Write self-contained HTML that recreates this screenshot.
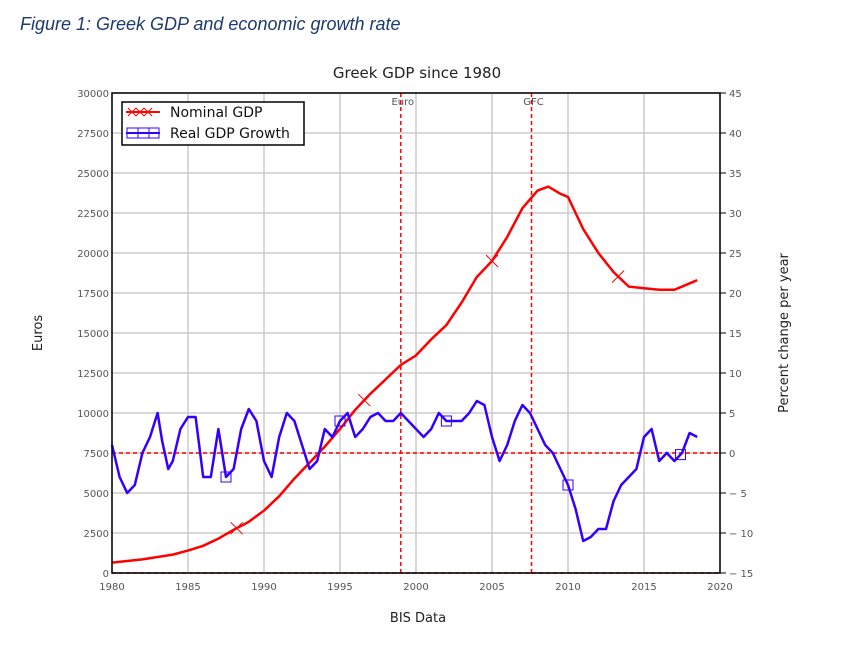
<!DOCTYPE html>
<html><head><meta charset="utf-8"><style>
body{margin:0;background:#fff;font-family:"Liberation Sans",sans-serif}
svg text{font-family:"DejaVu Sans","Liberation Sans",sans-serif}
</style></head><body>
<svg id="c" width="856" height="647" viewBox="0 0 856 647">
<text x="20" y="30" font-size="18" font-style="italic" fill="#1e3a6e" style="font-family:'Liberation Sans',sans-serif">Figure 1: Greek GDP and economic growth rate</text>
<text x="417" y="78" font-size="15" text-anchor="middle" fill="#222">Greek GDP since 1980</text>
<g id="grid"></g><g id="marks"></g><g id="axes"></g>
<text transform="translate(42,333) rotate(-90)" font-size="13" text-anchor="middle" fill="#222">Euros</text>
<text transform="translate(788,333) rotate(-90)" font-size="13" text-anchor="middle" fill="#222">Percent change per year</text>
<text x="418" y="622" font-size="13" text-anchor="middle" fill="#222">BIS Data</text>
<g>
<rect x="122" y="102" width="182" height="43" fill="#fff" stroke="#000" stroke-width="1.5"/>
<line x1="126" y1="112" x2="160" y2="112" stroke="#f00" stroke-width="2"/>
<path d="M128 108l8 8M136 108l-8 8M136 108l8 8M144 108l-8 8M144 108l8 8M152 108l-8 8" stroke="#f00" stroke-width="1"/>
<text x="170" y="117" font-size="14" fill="#111">Nominal GDP</text>
<line x1="126" y1="133" x2="160" y2="133" stroke="#30f" stroke-width="2"/>
<path d="M127 128h32v10h-32zM138 128v10M149 128v10" fill="none" stroke="#30f" stroke-width="1"/>
<text x="170" y="138" font-size="14" fill="#111">Real GDP Growth</text>
</g>
</svg>
<script>
const gdpYears=[1980,1981,1982,1983,1984,1985,1986,1987,1988,1989,1990,1991,1992,1993,1994,1995,1996,1997,1998,1999,2000,2001,2002,2003,2004,2005,2006,2007,2008,2008.7,2009.5,2010,2011,2012,2013,2014,2015,2016,2017,2018.5];
const gdpValues=[650,750,850,1000,1150,1400,1700,2150,2700,3200,3900,4800,5900,6900,7900,9000,10200,11200,12100,13000,13600,14600,15500,16900,18500,19500,21000,22800,23900,24150,23700,23500,21500,20000,18800,17900,17800,17700,17700,18300];
const growthYears=[1980,1980.5,1981,1981.5,1982,1982.5,1983,1983.3,1983.7,1984,1984.5,1985,1985.5,1986,1986.5,1987,1987.5,1988,1988.5,1989,1989.5,1990,1990.5,1991,1991.5,1992,1992.5,1993,1993.5,1994,1994.5,1995,1995.5,1996,1996.5,1997,1997.5,1998,1998.5,1999,2000,2000.5,2001,2001.5,2002,2002.5,2003,2003.5,2004,2004.5,2005,2005.5,2006,2006.5,2007,2007.5,2008,2008.5,2009,2009.5,2010,2010.5,2011,2011.5,2012,2012.5,2013,2013.5,2014,2014.5,2015,2015.5,2016,2016.5,2017,2017.5,2018,2018.5];
const growthValues=[1,-3,-5,-4,0,2,5,1.5,-2,-1,3,4.5,4.5,-3,-3,3,-3,-2,3,5.5,4,-1,-3,2,5,4,1,-2,-1,3,2,4,5,2,3,4.5,5,4,4,5,3,2,3,5,4,4,4,5,6.5,6,2,-1,1,4,6,5,3,1,0,-2,-4,-7,-11,-10.5,-9.5,-9.5,-6,-4,-3,-2,2,3,-1,0,-1,0,2.5,2];
const gdpMarkYears=[1988.2,1996.6,2005.0,2013.3];
const growthMarkYears=[1987.5,1995,2002,2010,2017.4];
const xTicks=[1980,1985,1990,1995,2000,2005,2010,2015,2020];
const yTicks=[0,2500,5000,7500,10000,12500,15000,17500,20000,22500,25000,27500,30000];
const y2Ticks=[-15,-10,-5,0,5,10,15,20,25,30,35,40,45];
const events=[{year:1999,label:"Euro"},{year:2007.6,label:"GFC"}];
const L=112,R=720,T=93,B=573;
const X=v=>L+(v-1980)/40*(R-L);
const Y=v=>B-v/30000*(B-T);
const Y2=v=>B-(v+15)/60*(B-T);
const ns="http://www.w3.org/2000/svg";
function mk(p,t,a){const e=document.createElementNS(ns,t);for(const k in a)e.setAttribute(k,a[k]);p.appendChild(e);return e;}
const grid=document.getElementById('grid'),marks=document.getElementById('marks'),axes=document.getElementById('axes');
xTicks.forEach(t=>{const l=mk(grid,'line',{x1:X(t),x2:X(t),y1:T,y2:B,stroke:'#ccc','stroke-width':1.5});


const tx=mk(axes,'text',{x:X(t),y:B+17,'font-size':10,'text-anchor':'middle',fill:'#555'});tx.textContent=t;

});
yTicks.forEach(t=>{const l=mk(grid,'line',{x1:L,x2:R,y1:Y(t),y2:Y(t),stroke:'#ccc','stroke-width':1.5});


const tx=mk(axes,'text',{x:L-3,y:Y(t)+4,'font-size':10,'text-anchor':'end',fill:'#555'});tx.textContent=t;

});
y2Ticks.forEach(t=>{mk(axes,'line',{x1:R,x2:R+6,y1:Y2(t),y2:Y2(t),stroke:'#000'});
const tx=mk(axes,'text',{x:R+9,y:Y2(t)+4,'font-size':10,fill:'#555'});tx.textContent=(t<0?'− '+(-t):t);

});
mk(axes,'rect',{x:L,y:T,width:R-L,height:B-T,fill:'none',stroke:'#000','stroke-width':1.5});
const zl=mk(marks,'line',{x1:L,x2:R,y1:Y2(0),y2:Y2(0),stroke:'#f00','stroke-width':1.5,'stroke-dasharray':'4,3'});


mk(marks,'line',{x1:L,x2:R,y1:B,y2:B,stroke:'#f00','stroke-width':1.5,'stroke-dasharray':'4,3'});
events.forEach(e=>{const l=mk(marks,'line',{x1:X(e.year),x2:X(e.year),y1:T,y2:B,stroke:'#f00','stroke-width':1.5,'stroke-dasharray':'4,3'});


const tx=mk(marks,'text',{x:X(e.year)+2,y:T+12,'font-size':10,'text-anchor':'middle',fill:'#555'});tx.textContent=e.label;

});
const interp=(xs,ys,x)=>{for(let i=1;i<xs.length;i++)if(x<=xs[i]){const f=(x-xs[i-1])/(xs[i]-xs[i-1]);return ys[i-1]+f*(ys[i]-ys[i-1]);}return ys[ys.length-1];};
const gp=mk(marks,'polyline',{points:gdpYears.map((y,i)=>X(y)+','+Y(gdpValues[i])).join(' '),fill:'none',stroke:'#f00','stroke-width':2.5});


const bp=mk(marks,'polyline',{points:growthYears.map((y,i)=>X(y)+','+Y2(growthValues[i])).join(' '),fill:'none',stroke:'#30f','stroke-width':2.5,'stroke-linejoin':'round'});


gdpMarkYears.forEach(yr=>{const x=X(yr),y=Y(interp(gdpYears,gdpValues,yr));
const m=mk(marks,'path',{d:`M${x-6} ${y-6}L${x+6} ${y+6}M${x+6} ${y-6}L${x-6} ${y+6}`,stroke:'#f00','stroke-width':1});

});
growthMarkYears.forEach(yr=>{const x=X(yr),y=Y2(interp(growthYears,growthValues,yr));
const m=mk(marks,'rect',{x:x-5,y:y-5,width:10,height:10,fill:'none',stroke:'#30f','stroke-width':1});

});
</script>
</body></html>
